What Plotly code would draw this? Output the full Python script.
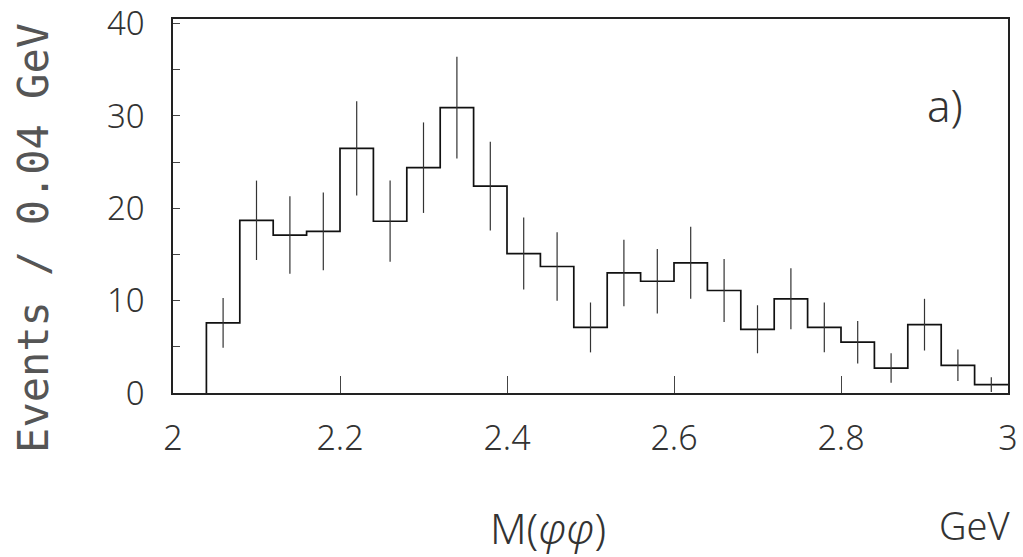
import plotly.graph_objects as go

# ---- data ----
bin_low = [2.04, 2.08, 2.12, 2.16, 2.20, 2.24, 2.28, 2.32, 2.36, 2.40, 2.44, 2.48,
           2.52, 2.56, 2.60, 2.64, 2.68, 2.72, 2.76, 2.80, 2.84, 2.88, 2.92, 2.96]
bin_width = 0.04
events = [7.6, 18.7, 17.1, 17.5, 26.5, 18.6, 24.4, 30.9, 22.4, 15.1, 13.7, 7.1,
          13.0, 12.1, 14.1, 11.1, 6.9, 10.2, 7.1, 5.5, 2.7, 7.4, 3.0, 0.9]
errors = [2.7, 4.3, 4.2, 4.2, 5.1, 4.4, 4.9, 5.5, 4.8, 3.9, 3.7, 2.7,
          3.6, 3.5, 3.9, 3.4, 2.6, 3.3, 2.7, 2.3, 1.6, 2.8, 1.7, 0.8]
x_ticks = [2, 2.2, 2.4, 2.6, 2.8, 3]
x_tick_text = ["2", "2.2", "2.4", "2.6", "2.8", "3"]
y_ticks = [0, 10, 20, 30, 40]
y_tick_text = ["0", "10", "20", "30", "40"]

FONT = "Noto Sans, Liberation Sans, sans-serif"
TXT = "#333333"
W = 300

step_x = [bin_low[0]] + bin_low + [bin_low[-1] + bin_width]
step_y = [0] + events + [events[-1]]
centers = [b + bin_width / 2 for b in bin_low]

fig = go.Figure()
fig.add_trace(go.Scatter(
    x=step_x, y=step_y, mode="lines", line=dict(shape="hv", color="#111", width=1.7),
    hoverinfo="skip", showlegend=False))
fig.add_trace(go.Scatter(
    x=centers, y=events, mode="markers",
    marker=dict(size=1, color="rgba(0,0,0,0)"),
    error_y=dict(type="data", array=errors, visible=True, width=0, thickness=1.2, color="#333"),
    showlegend=False))

fig.update_layout(
    width=1023, height=557,
    margin=dict(l=173, r=15, t=19, b=164, autoexpand=False),
    paper_bgcolor="white", plot_bgcolor="white",
    font=dict(family=FONT, color=TXT, size=32, weight=W),
    showlegend=False,
    xaxis=dict(
        range=[2, 3], tickvals=x_ticks, ticktext=x_tick_text,
        ticks="inside", ticklen=17, tickwidth=1.2, tickcolor="#444",
        showline=True, linecolor="#222", linewidth=1.6, mirror=True,
        showgrid=False, zeroline=False, automargin=False,
        tickfont=dict(family=FONT, size=34, color=TXT, weight=W),
        ticklabelstandoff=14, ticklabeloverflow="allow",
    ),
    yaxis=dict(
        range=[0, 40.5], tickvals=y_ticks, ticktext=y_tick_text,
        ticks="inside", ticklen=7, tickwidth=1.2, tickcolor="#444",
        minor=dict(dtick=5, ticks="inside", ticklen=7, tickwidth=1.2, tickcolor="#444"),
        showline=True, linecolor="#222", linewidth=1.6, mirror=True,
        showgrid=False, zeroline=False, automargin=False,
        tickfont=dict(family=FONT, size=33, color=TXT, weight=W),
        ticklabelstandoff=20, ticklabeloverflow="allow",
    ),
    annotations=[
        dict(text="Events / 0.04 GeV", xref="paper", yref="paper",
             x=-0.168, y=0.414, textangle=-90, showarrow=False,
             xanchor="center", yanchor="middle",
             font=dict(family="DejaVu Sans Mono", size=42, color="#555")),
        dict(text="M(<i>φφ</i>)", xref="paper", yref="paper",
             x=0.4487, y=-0.359, showarrow=False, xanchor="center", yanchor="middle",
             font=dict(family=FONT, size=42, color=TXT, weight=W)),
        dict(text="GeV", xref="paper", yref="paper",
             x=0.96, y=-0.354, showarrow=False, xanchor="center", yanchor="middle",
             font=dict(family=FONT, size=38, color=TXT, weight=W)),
        dict(text="a)", xref="paper", yref="paper",
             x=0.924, y=0.77, showarrow=False, xanchor="center", yanchor="middle",
             font=dict(family=FONT, size=44, color=TXT, weight=W)),
    ],
)

# remove the browser's default 8px body margin so the figure fills the window
fig.write_html("out.html", config={"displayModeBar": False},
               post_script="document.body.style.margin='0';")
